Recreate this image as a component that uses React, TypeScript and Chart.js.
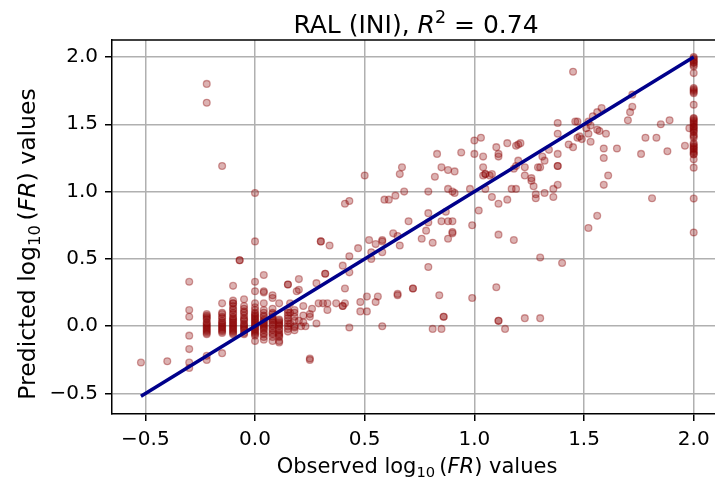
import React, { useEffect, useRef } from "react";
import { Chart, registerables } from "chart.js";

Chart.register(...registerables);

const FONT = '"DejaVu Sans", "Liberation Sans", sans-serif';

// ---- text ----
const titleLead = "RAL (INI), ";
const r2Text = "0.74";
const xLabelLead = "Observed ";
const yLabelLead = "Predicted ";
const labelTail = " values";

// ---- axes ----
const xTickValues = [-0.5, 0.0, 0.5, 1.0, 1.5, 2.0];
const yTickValues = [-0.5, 0.0, 0.5, 1.0, 1.5, 2.0];
const xAxisMin = -0.652;
const xAxisMax = 2.17; // right frame lies just beyond the visible picture
const yAxisMin = -0.652;
const yAxisMax = 2.126;

// ---- data: observed log10(FR) (x) and predicted log10(FR) (y), row-aligned ----
const observed = [
  -0.22, -0.22, -0.15, 0.0,
  0.5, 0.67, 0.66, 0.68, 0.64, 0.61, 0.59, 0.41, 0.43, 0.7,
  0.63, 0.65, 0.66, 0.52, 0.55, 0.58, 0.47, 0.3, 0.34, 0.53,
  0.53, 0.58, 0.58, 0.43, 0.4, 0.43, 0.32, 0.79, 0.78, 0.76,
  1.45, 1.72, 1.72, 1.71, 1.7, 1.58, 1.56, 1.54, 1.52, 1.53,
  1.51, 1.52, 1.46, 1.47, 1.48, 1.49, 1.47, 1.56, 1.57, 1.6,
  1.53, 1.43, 1.45, 1.38, 1.38, 1.38, 1.38, 1.38, 1.38, 1.36,
  1.36, 1.32, 1.34, 1.31, 1.32, 1.3, 1.29, 1.28, 1.28, 1.27,
  1.26, 1.26, 1.23, 1.23, 1.2, 1.2, 1.21, 1.19, 1.15, 1.19,
  1.18, 1.17, 1.19, 1.15, 1.1, 1.11, 1.11, 1.04, 1.04, 1.05,
  1.04, 1.05, 1.08, 1.07, 1.03, 1.0, 1.0, 1.08, 1.11, 1.05,
  0.98, 1.02, 0.99, 1.11, 0.94, 0.83, 0.85, 0.88, 0.91, 0.82,
  0.88, 0.9, 0.91, 0.79, 0.87, 0.79, 0.85, 0.88, 0.9, 0.9,
  0.9, 1.52, 1.56, 1.61, 1.59, 1.59, 1.59, 1.65, 1.76,
  1.78, 1.83, 1.85, 1.89, 1.88, 1.96, 1.98, 1.81,
  0.81, 0.88, 1.18, 1.3, 1.4, 0.79, 0.72, 0.72, 0.84, 0.99,
  1.1, 0.86, 0.86, 0.81, 0.85, 1.11, 1.11, 1.14, 1.23, 1.3,
  -0.52, -0.4, -0.3, -0.3, -0.3, -0.3, -0.3, -0.3, -0.3, -0.22,
  -0.22, -0.15, -0.15, -0.1, -0.1, -0.07, -0.07, -0.05, 0.0, 0.0,
  0.0, 0.0, 0.0, 0.04, 0.04, 0.04, 0.04, 0.08, 0.08, 0.08,
  0.08, 0.11, 0.11, 0.11, 0.15, 0.15, 0.16, 0.16, 0.16, 0.2,
  0.2, 0.19, 0.2, 0.21, 0.23, 0.25, 0.25, 0.28, 0.25, 0.25,
  0.28, 0.29, 0.31, 0.33, 0.33, 0.37, 0.41, 0.4, 0.4, 0.43,
  0.41, 0.32, 0.3, 0.48, 0.48, 0.51, 0.51, 0.55, 0.56, 0.58,
  0.65, 0.65, 0.04,
];

const predicted = [
  1.8, 1.66, 1.19, 0.99,
  1.12, 1.18, 1.13, 1.0, 0.97, 0.94, 0.94, 0.91, 0.93, 0.78,
  0.69, 0.67, 0.6, 0.64, 0.61, 0.64, 0.58, 0.63, 0.6, 0.55,
  0.5, 0.55, 0.63, 0.52, 0.45, 0.4, 0.39, 0.77, 0.71, 0.65,
  1.89, 1.72, 1.63, 1.59, 1.53, 1.62, 1.59, 1.56, 1.52, 1.49,
  1.47, 1.43, 1.52, 1.52, 1.41, 1.39, 1.4, 1.46, 1.45, 1.43,
  1.37, 1.35, 1.33, 1.51, 1.43, 1.28, 1.19, 1.19, 1.05, 1.02,
  0.96, 0.99, 1.31, 1.26, 1.23, 1.18, 1.18, 0.98, 0.95, 1.04,
  1.1, 1.08, 1.12, 1.18, 1.23, 1.35, 1.36, 1.34, 1.36, 1.19,
  1.17, 1.02, 1.02, 0.94, 1.33, 1.28, 1.26, 1.26, 1.18, 1.13,
  1.12, 1.13, 1.13, 1.12, 1.4, 1.38, 1.28, 0.96, 0.91, 1.02,
  1.02, 0.86, 0.75, 0.68, 1.29, 1.28, 1.18, 1.16, 1.15, 1.11,
  1.02, 1.0, 0.99, 1.0, 0.85, 0.84, 0.78, 0.78, 0.78, 0.7,
  0.69, 0.73, 0.82, 1.12, 1.05, 1.25, 1.32, 1.32, 1.28,
  1.4, 1.4, 1.5, 1.53, 1.3, 1.34, 1.47, 0.95,
  0.62, 0.65, 0.64, 0.51, 0.47, 0.44, 0.28, 0.28, 0.23, 0.21,
  0.29, 0.07, 0.07, -0.02, -0.02, 0.04, 0.04, -0.02, 0.06, 0.06,
  -0.27, -0.26, 0.33, 0.12, 0.07, -0.07, -0.17, -0.27, -0.31, -0.22,
  -0.25, 0.17, -0.2, 0.3, 0.17, 0.49, 0.49, 0.2, 0.63, 0.33,
  0.26, 0.17, -0.11, 0.38, 0.26, 0.17, -0.1, 0.21, 0.23, 0.13,
  -0.11, 0.17, -0.11, -0.12, 0.31, 0.31, 0.17, 0.1, 0.02, 0.35,
  0.27, 0.26, 0.04, 0.0, 0.0, 0.09, 0.07, 0.02, -0.25, -0.24,
  0.32, 0.17, 0.17, 0.17, 0.12, 0.17, 0.17, 0.15, 0.15, -0.01,
  0.28, 0.39, 0.63, 0.18, 0.11, 0.22, 0.11, 0.18, 0.22, 0.0,
  0.23, 0.24, 0.25,
];

// predictions for cases with observed log10(FR) = 2.0
const saturatedPredicted = [
  2.0, 1.99, 1.98, 1.97, 1.96, 1.955, 1.94, 1.93, 1.88, 1.77,
  1.76, 1.75, 1.74, 1.73, 1.645, 1.547, 1.54, 1.53, 1.52, 1.51,
  1.5, 1.486, 1.48, 1.47, 1.46, 1.45, 1.44, 1.42, 1.412, 1.4,
  1.36, 1.35, 1.338, 1.33, 1.32, 1.313, 1.3, 1.29, 1.28, 1.276,
  1.24, 1.178, 0.948, 0.696,
];

// dense cluster near the origin (discrete observed values)
const clusterObserved = [
  -0.22, -0.22, -0.22, -0.22, -0.22, -0.22, -0.22, -0.22, -0.22, -0.22, -0.22, -0.22, -0.22, -0.22, -0.22,
  -0.15, -0.15, -0.15, -0.15, -0.15, -0.15, -0.15, -0.15, -0.15, -0.15, -0.15, -0.15, -0.15, -0.15,
  -0.1, -0.1, -0.1, -0.1, -0.1, -0.1, -0.1, -0.1, -0.1, -0.1, -0.1, -0.1, -0.1, -0.1, -0.1, -0.1, -0.1, -0.1, -0.1, -0.1, -0.1,
  -0.05, -0.05, -0.05, -0.05, -0.05, -0.05, -0.05, -0.05, -0.05, -0.05, -0.05, -0.05, -0.05, -0.05, -0.05, -0.05,
  0.0, 0.0, 0.0, 0.0, 0.0, 0.0, 0.0, 0.0, 0.0, 0.0, 0.0, 0.0, 0.0, 0.0, 0.0, 0.0, 0.0, 0.0, 0.0, 0.0,
  0.04, 0.04, 0.04, 0.04, 0.04, 0.04, 0.04, 0.04, 0.04, 0.04, 0.04, 0.04, 0.04, 0.04, 0.04, 0.04,
  0.08, 0.08, 0.08, 0.08, 0.08, 0.08, 0.08, 0.08, 0.08, 0.08, 0.08, 0.08, 0.08, 0.08,
  0.11, 0.11, 0.11, 0.11, 0.11, 0.11, 0.11, 0.11, 0.11, 0.11, 0.11, 0.11,
  0.15, 0.15, 0.15, 0.15, 0.15, 0.15, 0.15, 0.15, 0.15,
  0.18, 0.18, 0.18, 0.18, 0.18, 0.18, 0.18,
  0.22, 0.22, 0.22,
  0.26,
];
const clusterPredicted = [
  0.09, 0.06, 0.03, 0.0, -0.02, -0.04, -0.06, 0.08, 0.05, 0.02, 0.01, -0.01, -0.03, -0.05, 0.07,
  0.1, 0.07, 0.04, 0.01, -0.02, -0.05, 0.09, 0.06, 0.03, 0.0, -0.01, -0.03, -0.04, 0.02,
  0.19, 0.15, 0.12, 0.09, 0.06, 0.04, 0.02, 0.0, -0.02, -0.04, -0.06, 0.17, 0.13, 0.1, 0.07, 0.05, 0.03, 0.01, -0.01, -0.03, -0.05,
  0.15, 0.11, 0.08, 0.05, 0.02, 0.0, -0.03, -0.06, 0.13, 0.1, 0.06, 0.04, 0.01, -0.01, -0.02, -0.05,
  0.14, 0.1, 0.07, 0.05, 0.03, 0.01, -0.01, -0.03, -0.05, -0.07, 0.12, 0.09, 0.06, 0.04, 0.02, 0.0, -0.02, -0.04, -0.06, 0.08,
  0.12, 0.08, 0.05, 0.02, 0.0, -0.02, -0.05, -0.08, 0.1, 0.07, 0.04, 0.01, -0.01, -0.03, -0.06, 0.03,
  0.1, 0.07, 0.04, 0.01, -0.02, -0.05, -0.08, 0.09, 0.06, 0.03, 0.0, -0.03, -0.06, 0.05,
  0.05, 0.02, 0.0, -0.03, -0.06, -0.08, 0.04, 0.01, -0.02, -0.05, -0.07, 0.03,
  0.12, 0.08, 0.04, 0.0, -0.04, 0.1, 0.06, 0.02, -0.02,
  0.12, 0.07, 0.0, -0.03, 0.1, 0.04, -0.01,
  0.15, 0.08, 0.03,
  0.13,
];

type Piece = { text: string; italic?: boolean; scale?: number; shift?: number };

function drawRich(
  ctx: CanvasRenderingContext2D,
  pieces: Piece[],
  size: number,
  cx: number,
  baseY: number,
  rotate = 0
) {
  ctx.save();
  ctx.translate(cx, baseY);
  if (rotate) ctx.rotate(rotate);
  const fontOf = (p: Piece) =>
    `${p.italic ? "italic " : ""}${(size * (p.scale ?? 1)).toFixed(2)}px ${FONT}`;
  let total = 0;
  const widths = pieces.map((p) => {
    ctx.font = fontOf(p);
    const w = ctx.measureText(p.text).width;
    total += w;
    return w;
  });
  let x = -total / 2;
  ctx.fillStyle = "#000";
  ctx.textAlign = "left";
  ctx.textBaseline = "alphabetic";
  pieces.forEach((p, i) => {
    ctx.font = fontOf(p);
    ctx.fillText(p.text, x, (p.shift ?? 0) * size);
    x += widths[i];
  });
  ctx.restore();
}

const logPieces = (lead: string): Piece[] => [
  { text: lead },
  { text: "log" },
  { text: "10", scale: 0.7, shift: 0.2 },
  { text: "\u2009(" },
  { text: "FR", italic: true },
  { text: ")" },
  { text: labelTail },
];

const fmt = (v: number) => (v < 0 ? "\u2212" : "") + Math.abs(v).toFixed(1);

const textPlugin = {
  id: "richText",
  afterDraw(chart: any) {
    const ctx: CanvasRenderingContext2D = chart.ctx;
    const a = chart.chartArea;
    ctx.save();
    ctx.strokeStyle = "#000";
    ctx.lineWidth = 1.5;
    ctx.beginPath();
    ctx.moveTo(a.left, a.top);
    ctx.lineTo(a.right, a.top);
    ctx.stroke();
    ctx.restore();
    const cx = 416;
    drawRich(
      ctx,
      [
        { text: titleLead },
        { text: "R", italic: true },
        { text: "2", scale: 0.7, shift: -0.42 },
        { text: " = " + r2Text },
      ],
      25,
      cx,
      33
    );
    drawRich(ctx, logPieces(xLabelLead), 21, cx + 1, 473);
    drawRich(ctx, logPieces(yLabelLead), 23.5, 35, 244, -Math.PI / 2);
  },
};

export default function App() {
  const ref = useRef<HTMLCanvasElement | null>(null);

  useEffect(() => {
    if (!ref.current) return;
    const allObs = observed
      .concat(saturatedPredicted.map(() => 2.0))
      .concat(clusterObserved);
    const allPred = predicted.concat(saturatedPredicted).concat(clusterPredicted);
    const points = allObs.map((x, i) => ({ x, y: allPred[i] }));
    const lo = Math.min(...allObs);
    const hi = Math.max(...allObs);
    const fitLine = [
      { x: lo, y: lo },
      { x: hi, y: hi },
    ];
    const axisCommon = (ticks: number[], min: number, max: number) => ({
      type: "linear" as const,
      min,
      max,
      afterBuildTicks: (s: any) => {
        s.ticks = ticks.map((v) => ({ value: v }));
      },
      grid: {
        color: "#b0b0b0",
        lineWidth: 1.5,
        tickColor: "#000",
        tickLength: 7,
        tickWidth: 1.5,
        drawTicks: true,
      },
      border: { display: true, color: "#000", width: 1.5 },
      ticks: {
        color: "#000",
        font: { family: FONT, size: 20 },
        padding: 7,
        maxRotation: 0,
        autoSkip: false,
        callback: (v: any) => fmt(Number(v)),
      },
    });
    const chart = new Chart(ref.current, {
      type: "scatter",
      data: {
        datasets: [
          {
            type: "line",
            data: fitLine,
            borderColor: "#00008b",
            borderWidth: 3.5,
            pointRadius: 0,
            fill: false,
            order: 0,
          } as any,
          {
            type: "scatter",
            data: points,
            backgroundColor: "rgba(139,0,0,0.3)",
            borderColor: "rgba(139,0,0,0.38)",
            borderWidth: 1.3,
            pointRadius: 3.4,
            order: 1,
          } as any,
        ],
      },
      options: {
        animation: false,
        responsive: false,
        devicePixelRatio: 1,
        events: [],
        layout: { padding: { top: 40, left: 0, right: 59, bottom: 0 } },
        plugins: {
          legend: { display: false },
          tooltip: { enabled: false },
          title: { display: false },
        },
        scales: {
          x: {
            ...axisCommon(xTickValues, xAxisMin, xAxisMax),
            afterFit: (s: any) => {
              s.height = 68;
            },
          },
          y: {
            ...axisCommon(yTickValues, yAxisMin, yAxisMax),
            afterFit: (s: any) => {
              s.width = 112;
            },
          },
        } as any,
      },
      plugins: [textPlugin],
    });
    return () => chart.destroy();
  }, []);

  return (
    <div
      style={{
        position: "fixed",
        left: 0,
        top: 0,
        width: 715,
        height: 482,
        overflow: "hidden",
        background: "#fff",
      }}
    >
      <canvas ref={ref} width={790} height={482} style={{ display: "block" }} />
    </div>
  );
}
